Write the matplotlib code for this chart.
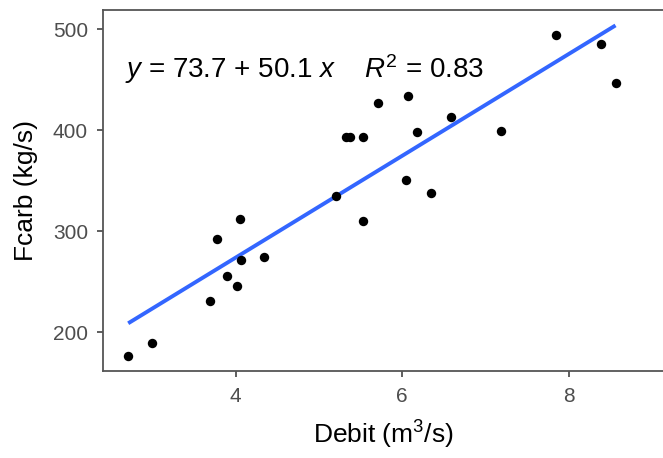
import matplotlib
matplotlib.use("Agg")
import matplotlib.pyplot as plt
import numpy as np

plt.rcParams['font.family'] = ['Liberation Sans', 'DejaVu Sans']
plt.rcParams['mathtext.fontset'] = 'custom'
plt.rcParams['mathtext.rm'] = 'Liberation Sans'
plt.rcParams['mathtext.it'] = 'Liberation Sans:italic'

debit = [2.71, 3.00, 3.69, 3.78, 3.89, 4.02, 4.05, 4.07, 4.34, 5.21, 5.32, 5.37,
         5.53, 5.53, 5.71, 6.07, 6.18, 6.58, 6.05, 6.34, 7.19, 7.84, 8.39, 8.56]
fcarb = [177, 189, 231, 292, 256, 246, 312, 272, 275, 335, 393, 393,
         393, 310, 427, 434, 398, 413, 351, 338, 399, 494, 485, 447]
x_ticks = [4, 6, 8]
y_ticks = [200, 300, 400, 500]
eq_text = r"$y$ = 73.7 + 50.1 $x$    $R^2$ = 0.83"

fig = plt.figure(figsize=(6.63, 4.58), dpi=100)
ax = fig.add_axes([103.3/663, (458-370.7)/458, (663-103.3)/663, (370.7-10)/458])

x = np.array(debit)
y = np.array(fcarb)
b, a = np.polyfit(x, y, 1)
xs = np.array([x.min(), x.max()])
ax.plot(xs, a + b*xs, color='#3366FF', lw=2.8, zorder=2, solid_capstyle='butt')
ax.scatter(x, y, s=46, color='black', zorder=3, linewidths=0)

ax.set_xlim(2.411, 9.13)
ax.set_ylim(162.0, 519.1)
ax.set_xticks(x_ticks)
ax.set_yticks(y_ticks)
ax.tick_params(axis='both', colors='#333333', labelcolor='#4D4D4D', labelsize=15,
               length=4, width=1.1)
ax.tick_params(axis='x', pad=8)
ax.tick_params(axis='y', pad=7)
for s in ['left', 'bottom', 'top']:
    ax.spines[s].set_color('#555555')
    ax.spines[s].set_linewidth(1.3)
ax.spines['right'].set_visible(False)

ax.set_xlabel(r"Debit (m$^3$/s)", fontsize=19, color='black', labelpad=9)
ax.set_ylabel("Fcarb (kg/s)", fontsize=19, color='black', labelpad=11)

ax.text(2.67, 451.5, eq_text, fontsize=20, color='black', va='baseline', ha='left')

fig.savefig("out.png", dpi=100)
